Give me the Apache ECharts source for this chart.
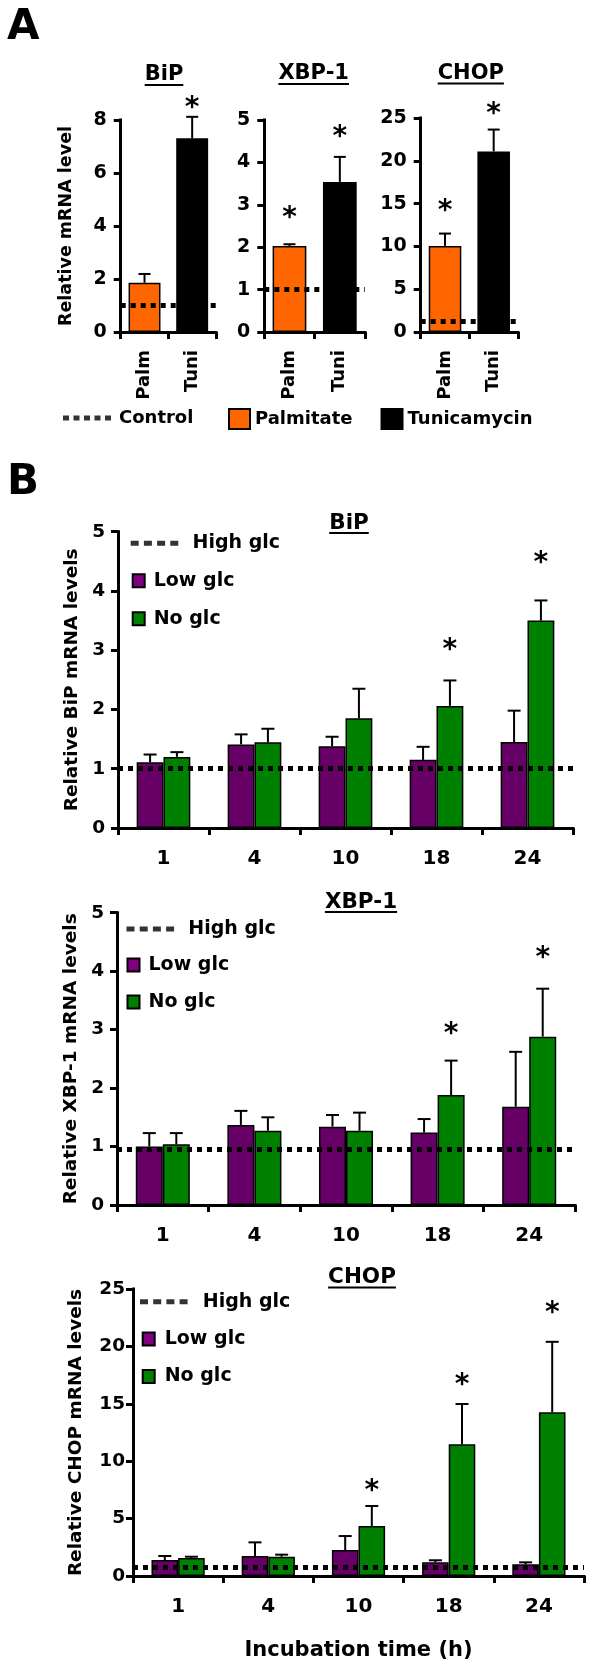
<!DOCTYPE html>
<html><head><meta charset="utf-8">
<script src="https://cdn.jsdelivr.net/npm/echarts@6/dist/echarts.min.js"></script>
<style>html,body{margin:0;padding:0;background:#fff}#c{width:600px;height:1671px}</style>
</head><body><div id="c"></div>
<script>
const FONT = 'DejaVu Sans';

// ---------- Panel A data ----------
const catsA = ['Palm', 'Tuni'];
const bipA = [1.86, 7.31];
const bipAErr = [0.33, 0.81];
const bipAStar = [null, 8.63];
const xbpA = [2.03, 3.54];
const xbpAErr = [0.04, 0.59];
const xbpAStar = [2.80, 4.72];
const chopA = [10.06, 21.1];
const chopAErr = [1.44, 2.55];
const chopAStar = [14.67, 26.0];
const controlA = [1.0, 1.0, 1.2];
const yMaxA = [8, 5, 25];
const yIntA = [2, 1, 5];
const titlesA = ['BiP', 'XBP-1', 'CHOP'];

// ---------- Panel B data ----------
const hours = ['1', '4', '10', '18', '24'];
const bipLow = [1.11, 1.41, 1.38, 1.15, 1.45];
const bipLowErr = [0.13, 0.17, 0.16, 0.22, 0.53];
const bipNo = [1.20, 1.445, 1.85, 2.06, 3.50];
const bipNoErr = [0.08, 0.23, 0.50, 0.43, 0.34];
const bipStar = [null, null, null, 3.09, 4.55];

const xbpLow = [1.00, 1.37, 1.34, 1.24, 1.68];
const xbpLowErr = [0.23, 0.24, 0.20, 0.23, 0.94];
const xbpNo = [1.04, 1.27, 1.27, 1.88, 2.88];
const xbpNoErr = [0.19, 0.23, 0.31, 0.59, 0.82];
const xbpStar = [null, null, null, 3.01, 4.31];

const chopLow = [1.39, 1.74, 2.26, 1.19, 1.02];
const chopLowErr = [0.35, 1.19, 1.22, 0.18, 0.17];
const chopNo = [1.57, 1.68, 4.36, 11.47, 14.26];
const chopNoErr = [0.11, 0.18, 1.74, 3.51, 6.14];
const chopStar = [null, null, 7.78, 17.07, 23.3];

const highGlc = [1.0, 0.95, 0.8];
const yMaxB = [5, 5, 25];
const yIntB = [1, 1, 5];
const titlesB = ['BiP', 'XBP-1', 'CHOP'];
const yNamesB = ['Relative BiP mRNA levels', 'Relative XBP-1 mRNA levels', 'Relative CHOP mRNA levels'];

// ---------- helpers ----------
const txt = (s) => ({ fontFamily: FONT, fontWeight: 'bold', fontSize: s, color: '#000' });
const axLine = { show: true, onZero: false, lineStyle: { color: '#000', width: 3, cap: 'square' } };
const tick = (len) => ({ show: true, length: len, lineStyle: { color: '#000', width: 3 } });
const dots5 = 'path://M0,0h6v5h-6zM10.5,0h6v5h-6zM21,0h6v5h-6zM31.5,0h6v5h-6zM42,0h6v5h-6z';
const dots4 = 'path://M0,0h8v5h-8zM13.2,0h8v5h-8zM26.4,0h8v5h-8zM39.6,0h8v5h-8z';
const dotLine = { type: [5, 5], width: 5, color: '#000', cap: 'butt' };

function errRender(frac, cap) {
  return function (params, api) {
    const ci = api.value(0), m = api.value(1), e = api.value(2), side = api.value(3);
    const band = api.size([1, 0])[0];
    const b = api.coord([ci, m]);
    const t = api.coord([ci, m + e]);
    const x = b[0] + side * band * frac;
    return { type: 'group', children: [
      { type: 'line', shape: { x1: x, y1: b[1], x2: x, y2: t[1] }, style: { stroke: '#000', lineWidth: 2 } },
      { type: 'line', shape: { x1: x - cap / 2, y1: t[1], x2: x + cap / 2, y2: t[1] }, style: { stroke: '#000', lineWidth: 2 } }
    ] };
  };
}
function starRender(frac) {
  return function (params, api) {
    const ci = api.value(0), y = api.value(1), side = api.value(2);
    const band = api.size([1, 0])[0];
    const p = api.coord([ci, y]);
    return { type: 'text', style: { text: '*', x: p[0] + side * band * frac, y: p[1] + 5.5,
      align: 'center', verticalAlign: 'middle', font: 'bold 28px "DejaVu Sans"', fill: '#000' } };
  };
}

const grids = [], xAxes = [], yAxes = [], series = [], legends = [];

// ---------- Panel A ----------
const gridA = [
  { left: 120.7, top: 120, width: 95.3, height: 212 },
  { left: 264.3, top: 120, width: 100.7, height: 212 },
  { left: 420.7, top: 118, width: 97.3, height: 214 }
];
const meansA = [bipA, xbpA, chopA], errsA = [bipAErr, xbpAErr, chopAErr], starsA = [bipAStar, xbpAStar, chopAStar];
for (let k = 0; k < 3; k++) {
  grids.push(gridA[k]);
  xAxes.push({ type: 'category', gridIndex: k, data: catsA, axisLine: axLine, axisTick: tick(7),
    axisLabel: Object.assign(txt(18), { rotate: 90, margin: 18 }), splitLine: { show: false } });
  yAxes.push({ type: 'value', gridIndex: k, min: 0, max: yMaxA[k], interval: yIntA[k], axisLine: axLine, axisTick: tick(7),
    axisLabel: Object.assign(txt(19), { margin: 14 }), splitLine: { show: false },
    name: k === 0 ? 'Relative mRNA level' : '', nameLocation: 'middle', nameGap: 45, nameTextStyle: txt(17.5) });
  const m = meansA[k];
  series.push({ type: 'bar', name: 'Palmitate', xAxisIndex: k, yAxisIndex: k, data: [m[0], '-'], barGap: '-100%', barCategoryGap: '33%',
    itemStyle: { color: '#FF6600', borderColor: '#000', borderWidth: 1.5 }, z: 2 });
  series.push({ type: 'bar', name: 'Tunicamycin', xAxisIndex: k, yAxisIndex: k, data: ['-', m[1]], barGap: '-100%', barCategoryGap: '33%',
    itemStyle: { color: '#000', borderColor: '#000', borderWidth: 1.5 }, z: 2 });
  series.push({ type: 'custom', xAxisIndex: k, yAxisIndex: k, renderItem: errRender(0, 12), z: 3, silent: true,
    data: m.map((v, i) => [i, v, errsA[k][i], 0]) });
  series.push({ type: 'custom', xAxisIndex: k, yAxisIndex: k, renderItem: starRender(0), z: 3, silent: true, clip: false,
    data: starsA[k].map((s, i) => s == null ? null : [i, s, 0]).filter(Boolean) });
  series.push({ type: 'scatter', name: 'Control', xAxisIndex: k, yAxisIndex: k, data: [], itemStyle: { color: '#000' }, z: 4,
    markLine: { silent: true, symbol: ['none', 'none'], label: { show: false }, lineStyle: dotLine, data: [{ yAxis: controlA[k] }] } });
}
legends.push({ left: 63, top: 408, padding: 0, selectedMode: false, itemWidth: 48, itemHeight: 5,
  data: [{ name: 'Control', icon: dots5 }], textStyle: Object.assign(txt(18), { lineHeight: 20, padding: [0, 0, 0, 3] }) });
legends.push({ left: 228, top: 408, padding: 0, selectedMode: false, itemWidth: 21, itemHeight: 20, itemGap: 28,
  data: [{ name: 'Palmitate', icon: 'rect' }, { name: 'Tunicamycin', icon: 'rect' }], textStyle: Object.assign(txt(18), { lineHeight: 20 }) });

// ---------- Panel B ----------
const gridB = [
  { left: 118, top: 531.7, width: 455, height: 296.3 },
  { left: 117, top: 912.7, width: 458, height: 292.3 },
  { left: 133, top: 1289, width: 451, height: 287 }
];
const lowB = [bipLow, xbpLow, chopLow], lowErrB = [bipLowErr, xbpLowErr, chopLowErr];
const noB = [bipNo, xbpNo, chopNo], noErrB = [bipNoErr, xbpNoErr, chopNoErr];
const starB = [bipStar, xbpStar, chopStar];
const yNameGapB = [34, 34, 47], yLabMarginB = [13, 13, 8];
const legPos = [
  { hx: 130.7, hy: 543.3, lx: 131.7, ly: 580.7, gap: 18, hp: 9, lp: 4 },
  { hx: 126.5, hy: 929, lx: 126.5, ly: 965, gap: 17, hp: 9, lp: 4 },
  { hx: 140, hy: 1301.7, lx: 141.7, ly: 1339, gap: 17.5, hp: 10, lp: 5 }
];
const FR = 0.1475;
for (let j = 0; j < 3; j++) {
  const k = 3 + j;
  grids.push(gridB[j]);
  xAxes.push({ type: 'category', gridIndex: k, data: hours, axisLine: axLine, axisTick: tick(7),
    axisLabel: Object.assign(txt(20), { margin: 21 }), splitLine: { show: false },
    name: j === 2 ? 'Incubation time (h)' : '', nameLocation: 'middle', nameGap: 64, nameTextStyle: txt(21) });
  yAxes.push({ type: 'value', gridIndex: k, min: 0, max: yMaxB[j], interval: yIntB[j], axisLine: axLine, axisTick: tick(7),
    axisLabel: Object.assign(txt(18.5), { margin: yLabMarginB[j] }), splitLine: { show: false },
    name: yNamesB[j], nameLocation: 'middle', nameGap: yNameGapB[j], nameTextStyle: txt(18.5) });
  series.push({ type: 'bar', name: 'Low glc', xAxisIndex: k, yAxisIndex: k, data: lowB[j], barGap: '0%', barCategoryGap: '41%',
    itemStyle: { color: '#660066', borderColor: '#000', borderWidth: 1.5 }, z: 2 });
  series.push({ type: 'bar', name: 'No glc', xAxisIndex: k, yAxisIndex: k, data: noB[j], barGap: '0%', barCategoryGap: '41%',
    itemStyle: { color: '#008000', borderColor: '#000', borderWidth: 1.5 }, z: 2 });
  const errData = lowB[j].map((v, i) => [i, v, lowErrB[j][i], -1]).concat(noB[j].map((v, i) => [i, v, noErrB[j][i], 1]));
  series.push({ type: 'custom', xAxisIndex: k, yAxisIndex: k, renderItem: errRender(FR, 13), z: 3, silent: true, data: errData });
  series.push({ type: 'custom', xAxisIndex: k, yAxisIndex: k, renderItem: starRender(FR), z: 3, silent: true, clip: false,
    data: starB[j].map((s, i) => s == null ? null : [i, s, 1]).filter(Boolean) });
  series.push({ type: 'scatter', name: 'High glc', xAxisIndex: k, yAxisIndex: k, data: [], itemStyle: { color: '#000' }, z: 4,
    markLine: { silent: true, symbol: ['none', 'none'], label: { show: false }, lineStyle: dotLine, data: [{ yAxis: highGlc[j] }] } });
  const L = legPos[j];
  legends.push({ left: L.hx, top: L.hy - 10, padding: 0, selectedMode: false, itemWidth: 48, itemHeight: 5,
    data: [{ name: 'High glc', icon: dots4 }], textStyle: Object.assign(txt(19), { lineHeight: 20, padding: [0, 0, 0, L.hp] }) });
  legends.push({ left: L.lx, top: L.ly - 10, padding: 0, selectedMode: false, orient: 'vertical', itemWidth: 12, itemHeight: 13, itemGap: L.gap,
    data: [{ name: 'Low glc', icon: 'rect', itemStyle: { color: '#800080' } }, { name: 'No glc', icon: 'rect', itemStyle: { color: '#008000' } }],
    textStyle: Object.assign(txt(19), { lineHeight: 20, padding: [0, 0, 0, L.lp] }) });
}

// ---------- titles / panel letters ----------
const mctx = document.createElement('canvas').getContext('2d');
function measure(t, size) { mctx.font = 'bold ' + size + 'px "DejaVu Sans"'; return mctx.measureText(t).width; }
const graphics = [];
function addTitle(t, cx, cy, size) {
  const w = measure(t, size);
  graphics.push({ type: 'text', x: cx, y: cy, silent: true,
    style: { text: t, align: 'center', verticalAlign: 'middle', font: 'bold ' + size + 'px "DejaVu Sans"', fill: '#000' } });
  graphics.push({ type: 'line', silent: true, shape: { x1: cx - w / 2, y1: cy + 10, x2: cx + w / 2, y2: cy + 10 },
    style: { stroke: '#000', lineWidth: 2 } });
}
const titlePosA = [[164, 75], [313.7, 74], [470.8, 73.5]];
const titlePosB = [[349, 523], [361, 902], [362, 1277.5]];
titlesA.forEach((t, i) => addTitle(t, titlePosA[i][0], titlePosA[i][1], 21));
titlesB.forEach((t, i) => addTitle(t, titlePosB[i][0], titlePosB[i][1], 21.5));
graphics.push({ type: 'text', x: 7, y: 28, silent: true, style: { text: 'A', verticalAlign: 'middle', font: 'bold 42px "DejaVu Sans"', fill: '#000' } });
graphics.push({ type: 'text', x: 7, y: 483, silent: true, style: { text: 'B', verticalAlign: 'middle', font: 'bold 42px "DejaVu Sans"', fill: '#000' } });

const chart = echarts.init(document.getElementById('c'), null, { renderer: 'canvas' });
chart.setOption({
  animation: false,
  backgroundColor: '#fff',
  textStyle: { fontFamily: FONT },
  grid: grids, xAxis: xAxes, yAxis: yAxes, series: series, legend: legends, graphic: graphics
});
</script></body></html>
